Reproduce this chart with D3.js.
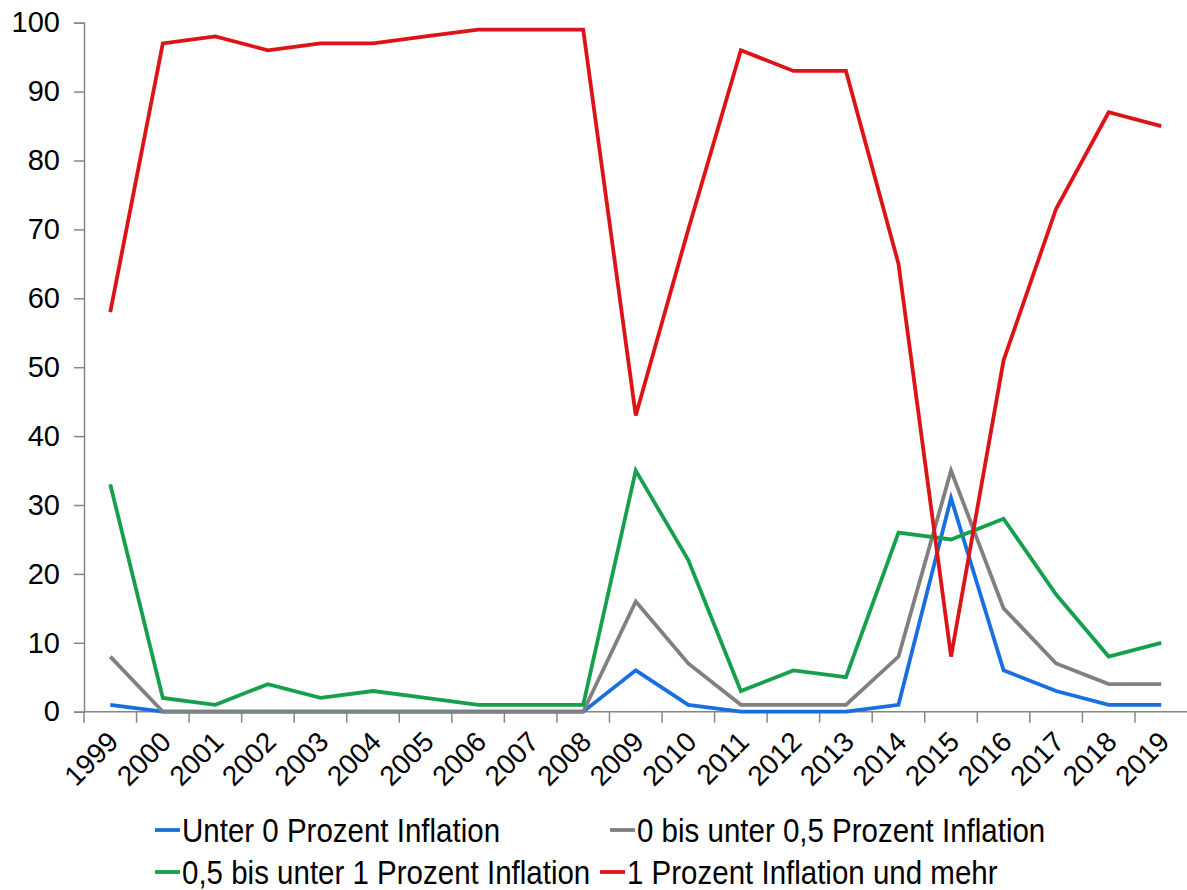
<!DOCTYPE html>
<html>
<head>
<meta charset="utf-8">
<script src="https://cdn.jsdelivr.net/npm/d3@7"></script>
<style>
  body { margin: 0; background: #fff; }
  text { font-family: "Liberation Sans", Arial, sans-serif; fill: #000; }
</style>
</head>
<body>
<svg id="chart" width="1187" height="890"></svg>
<script>
// years on the x axis
const years = ["1999","2000","2001","2002","2003","2004","2005","2006","2007","2008","2009",
               "2010","2011","2012","2013","2014","2015","2016","2017","2018","2019"];

// share of ... (percent)
const unter0     = [1,0,0,0,0,0,0,0,0,0,6,1,0,0,0,1,31,6,3,1,1];
const bis05      = [8,0,0,0,0,0,0,0,0,0,16,7,1,1,1,8,35,15,7,4,4];
const bis1       = [33,2,1,4,2,3,2,1,1,1,35,22,3,6,5,26,25,28,17,8,10];
const ab1        = [58,97,98,96,97,97,98,99,99,99,43,70,96,93,93,65,8,51,73,87,85];

const seriesNames = ["Unter 0 Prozent Inflation", "0 bis unter 0,5 Prozent Inflation",
                     "0,5 bis unter 1 Prozent Inflation", "1 Prozent Inflation und mehr"];
const yTicks = [0,10,20,30,40,50,60,70,80,90,100];

const colors = ["#1a6fe0", "#808080", "#16a04e", "#dc1418"];
const seriesData = [unter0, bis05, bis1, ab1];

const svg = d3.select("#chart");
const mLeft = 84, mRight = 1187.5, mTop = 22.7, mBottom = 711.7;

const x = d3.scaleBand().domain(years).range([mLeft, mRight]);
const y = d3.scaleLinear().domain([0, 100]).range([mBottom, mTop]);

const axisColor = "#868686";

// y axis
const yAxis = svg.append("g")
    .attr("transform", `translate(${mLeft},0)`)
    .call(d3.axisLeft(y).tickValues(yTicks).tickSize(10).tickPadding(14));
yAxis.select(".domain").attr("stroke", axisColor).attr("stroke-width", 1.5);
yAxis.selectAll(".tick line").attr("stroke", axisColor).attr("stroke-width", 1.5);
yAxis.selectAll(".tick text")
    .style("font-size", "29px")
    .style("font-family", "Liberation Sans, Arial, sans-serif")
    .attr("fill", "#000");

// x axis: tick marks sit between categories (Excel style)
const xg = svg.append("g");
xg.append("line")
    .attr("x1", mLeft).attr("x2", mRight)
    .attr("y1", mBottom).attr("y2", mBottom)
    .attr("stroke", axisColor).attr("stroke-width", 1.5);
xg.selectAll("line.tk")
    .data(years)
    .enter()
    .append("line")
    .attr("class", "tk")
    .attr("x1", d => x(d)).attr("x2", d => x(d))
    .attr("y1", mBottom).attr("y2", mBottom + 11)
    .attr("stroke", axisColor).attr("stroke-width", 1.5);
xg.selectAll("text")
    .data(years)
    .enter()
    .append("text")
    .attr("transform", d => `translate(${x(d) + x.bandwidth() / 2 - 4},${mBottom + 18}) rotate(-45)`)
    .attr("text-anchor", "end")
    .attr("dy", "0.7em")
    .style("font-size", "28px")
    .text(d => d);

// lines
const line = d3.line()
    .x((d, i) => x(years[i]) + x.bandwidth() / 2)
    .y(d => y(d));

seriesData.forEach((s, k) => {
    svg.append("path")
        .datum(s)
        .attr("fill", "none")
        .attr("stroke", colors[k])
        .attr("stroke-width", 3.8)
        .attr("stroke-linejoin", "miter")
        .attr("d", line);
});

// legend
const legendPos = [[155, 830], [610, 830], [155, 872], [600, 872]];
const lg = svg.append("g");
seriesNames.forEach((name, k) => {
    const p = legendPos[k];
    lg.append("line")
        .attr("x1", p[0]).attr("x2", p[0] + 25)
        .attr("y1", p[1]).attr("y2", p[1])
        .attr("stroke", colors[k]).attr("stroke-width", 3.8);
    lg.append("text")
        .attr("transform", `translate(${p[0] + 27},${p[1]}) scale(1,1.12)`)
        .attr("dy", "0.36em")
        .style("font-size", "29.5px")
        .text(name);
});
</script>
</body>
</html>
